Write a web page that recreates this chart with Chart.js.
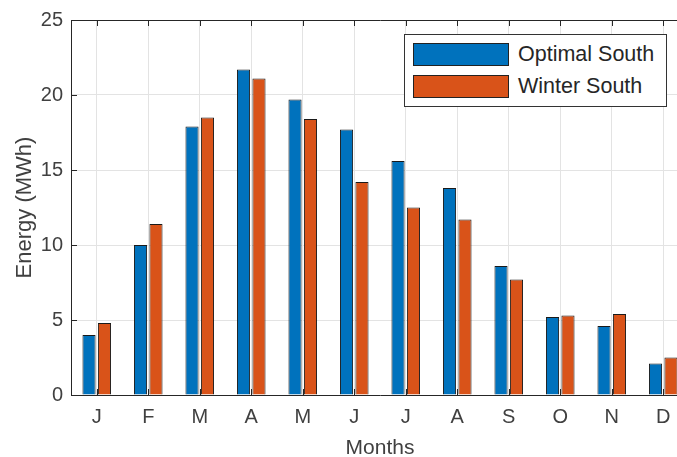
<!DOCTYPE html>
<html>
<head>
<meta charset="utf-8">
<script src="https://cdn.jsdelivr.net/npm/chart.js@4.4.0/dist/chart.umd.min.js"></script>
<style>
  html, body { margin: 0; padding: 0; background: #fff; overflow: hidden; }
  #wrap { position: relative; width: 677px; height: 457px; overflow: hidden; }
  #chart { position: absolute; left: 0; top: 0; }
  #legend {
    position: absolute; left: 404px; top: 34px; width: 261px; height: 71px;
    border: 1px solid #333; background: #fff;
    font-family: "Liberation Sans", Arial, sans-serif; font-size: 21.5px; color: #262626;
  }
  .row { position: absolute; left: 8px; height: 23px; display: flex; align-items: center; }
  .sw { width: 94px; height: 21px; border: 1px solid #222; margin-right: 9px; }
</style>
</head>
<body>
<div id="wrap">
  <canvas id="chart" width="700" height="461"></canvas>
  <div id="legend"></div>
</div>
<script>
const months = ["J", "F", "M", "A", "M", "J", "J", "A", "S", "O", "N", "D"]
const optimalSouth = [4.0, 10.0, 17.9, 21.7, 19.7, 17.7, 15.6, 13.8, 8.6, 5.2, 4.6, 2.1]
const winterSouth = [4.8, 11.4, 18.5, 21.1, 18.4, 14.2, 12.5, 11.7, 7.7, 5.3, 5.4, 2.5]
const yTicks = [0, 5, 10, 15, 20, 25]

const blue = '#0072BD'
const orange = '#D95319'
const textColor = '#404040'
const fontName = '"Liberation Sans", Arial, sans-serif'

// matlab style box with inward ticks, drawn on top of the bars
const boxPlugin = {
    id: 'boxPlugin',
    afterDatasetsDraw(chart){
        const ctx = chart.ctx
        const area = chart.chartArea
        const x = chart.scales.x
        const y = chart.scales.y
        ctx.save()
        ctx.strokeStyle = '#262626'
        ctx.lineWidth = 1
        ctx.beginPath()
        ctx.rect(Math.round(area.left) + 0.5, Math.round(area.top) + 0.5, Math.round(area.right - area.left), Math.round(area.bottom - area.top))
        ctx.stroke()
        ctx.beginPath()
        x.ticks.forEach((t, i) => {
            const px = Math.round(x.getPixelForTick(i)) + 0.5
            ctx.moveTo(px, area.bottom); ctx.lineTo(px, area.bottom - 6)
            ctx.moveTo(px, area.top); ctx.lineTo(px, area.top + 6)
        })
        y.ticks.forEach((t, i) => {
            const py = Math.round(y.getPixelForTick(i)) + 0.5
            ctx.moveTo(area.left, py); ctx.lineTo(area.left + 6, py)
            ctx.moveTo(area.right, py); ctx.lineTo(area.right - 6, py)
        })
        ctx.stroke()
        ctx.restore()
    }
}

const chart = new Chart(document.getElementById('chart'), {
    type: 'bar',
    data: {
        labels: months,
        datasets: [
            { label: 'Optimal South', data: optimalSouth, backgroundColor: blue, borderColor: '#1a1a1a', borderWidth: 1 },
            { label: 'Winter South', data: winterSouth, backgroundColor: orange, borderColor: '#1a1a1a', borderWidth: 1 }
        ]
    },
    options: {
        responsive: false,
        animation: false,
        layout: { padding: { top: 16, right: 11, left: 0, bottom: 0 } },
        datasets: { bar: { categoryPercentage: 0.6, barPercentage: 0.85 } },
        plugins: { legend: { display: false }, tooltip: { enabled: false } },
        scales: {
            x: {
                grid: { offset: false, color: '#e3e3e3', drawTicks: false },
                border: { display: false },
                ticks: { color: textColor, font: { family: fontName, size: 20 }, padding: 10 },
                title: { display: true, text: 'Months', color: textColor, font: { family: fontName, size: 21 }, padding: { top: 0, bottom: 0 } },
                afterFit(scale){ scale.height = 66 }
            },
            y: {
                min: 0,
                max: 25,
                afterBuildTicks(scale){ scale.ticks = yTicks.map(v => ({ value: v })) },
                grid: { color: '#e3e3e3', drawTicks: false },
                border: { display: false },
                ticks: { color: textColor, font: { family: fontName, size: 20 }, padding: 8 },
                title: { display: true, text: 'Energy (MWh)', color: textColor, font: { family: fontName, size: 22 }, padding: { top: 12, bottom: 0 } },
                afterFit(scale){ scale.width = 71 }
            }
        }
    },
    plugins: [boxPlugin]
})

// legend box like the matlab one
const legendEl = document.getElementById('legend')
chart.data.datasets.forEach((ds, i) => {
    const row = document.createElement('div')
    row.className = 'row'
    row.style.top = (8 + i * 32) + 'px'
    const sw = document.createElement('div')
    sw.className = 'sw'
    sw.style.background = ds.backgroundColor
    const label = document.createElement('span')
    label.textContent = ds.label
    row.appendChild(sw)
    row.appendChild(label)
    legendEl.appendChild(row)
})
</script>
</body>
</html>
